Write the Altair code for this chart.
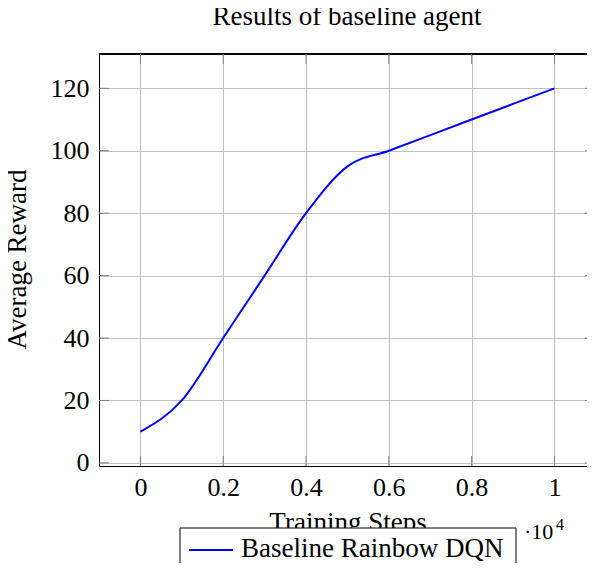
import altair as alt
import pandas as pd

# ---- data ----
steps = [0, 1000, 2000, 3000, 4000, 5000, 6000, 8000, 10000]
reward = [10, 20, 40, 60, 80, 95, 100, 110, 120]
series_name = "Baseline Rainbow DQN"
x_ticks = [0, 2000, 4000, 6000, 8000, 10000]
y_ticks = [0, 20, 40, 60, 80, 100, 120]

FONT = "Liberation Serif"
W, H = 488, 412          # visible plot area (the reference's right edge runs off the page)
W_FULL = 496             # where the right axis of the reference would sit
TICK = 10
TICK_COLOR = "#808080"
TXT = 27

df = pd.DataFrame({"step": steps, "reward": reward, "series": [series_name] * len(steps)})
xt = pd.DataFrame({"t": x_ticks})
yt = pd.DataFrame({"t": y_ticks})

xs = alt.Scale(domain=[-1000, 10787], nice=False, zero=False)
ys = alt.Scale(domain=[-1, 131], nice=False, zero=False)

line = alt.Chart(df).mark_line(interpolate="monotone", strokeWidth=2).encode(
    x=alt.X("step:Q", scale=xs,
            axis=alt.Axis(values=x_ticks, labelExpr="'' + datum.value / 10000",
                          title="Training Steps", labelPadding=8,
                          titleX=248.5, titleY=64, titleAlign="center",
                          titleBaseline="alphabetic")),
    y=alt.Y("reward:Q", scale=ys,
            axis=alt.Axis(values=y_ticks, title="Average Reward", labelPadding=10,
                          titleX=-74, titleY=205, titleAlign="center",
                          titleBaseline="alphabetic", titleAngle=-90)),
    color=alt.Color("series:N",
                    scale=alt.Scale(domain=[series_name], range=["#0000ff"]),
                    legend=None),
)

top_border = alt.Chart(xt).mark_rule(color="black", strokeWidth=1).encode(
    x=alt.value(0), x2=alt.value(W), y=alt.value(0))
xtick_top = alt.Chart(xt).mark_rule(color=TICK_COLOR, strokeWidth=1).encode(
    x=alt.X("t:Q", scale=xs), y=alt.value(0), y2=alt.value(TICK))
xtick_bot = alt.Chart(xt).mark_rule(color=TICK_COLOR, strokeWidth=1).encode(
    x=alt.X("t:Q", scale=xs), y=alt.value(H), y2=alt.value(H - TICK))
ytick_left = alt.Chart(yt).mark_rule(color=TICK_COLOR, strokeWidth=1).encode(
    y=alt.Y("t:Q", scale=ys), x=alt.value(0), x2=alt.value(TICK))
ytick_right = alt.Chart(yt).mark_rule(color=TICK_COLOR, strokeWidth=1).encode(
    y=alt.Y("t:Q", scale=ys), x=alt.value(W_FULL), x2=alt.value(W_FULL - TICK))

# legend box (boxed, below the axis title, as in the reference)
leg = pd.DataFrame({"series": [series_name]})
leg_box = alt.Chart(leg).mark_rect(fill="white", stroke="black", strokeWidth=1).encode(
    x=alt.value(81), x2=alt.value(417), y=alt.value(474), y2=alt.value(540))
leg_sym = alt.Chart(leg).mark_rule(strokeWidth=2).encode(
    x=alt.value(90), x2=alt.value(134), y=alt.value(496),
    color=alt.Color("series:N", scale=alt.Scale(domain=[series_name], range=["#0000ff"]),
                    legend=None))
leg_txt = alt.Chart(leg).mark_text(
    align="left", baseline="alphabetic", font=FONT, fontSize=TXT, color="black"
).encode(x=alt.value(142), y=alt.value(503), text="series:N")

mult = alt.Chart(pd.DataFrame({"t": ["·10"]})).mark_text(
    align="left", baseline="alphabetic", font=FONT, fontSize=22, color="black"
).encode(x=alt.value(425), y=alt.value(485), text="t:N")
mult_exp = alt.Chart(pd.DataFrame({"t": ["4"]})).mark_text(
    align="left", baseline="alphabetic", font=FONT, fontSize=16, color="black"
).encode(x=alt.value(457), y=alt.value(476), text="t:N")

chart = alt.layer(
    line, top_border, xtick_top, xtick_bot, ytick_left, ytick_right,
    leg_box, leg_sym, leg_txt, mult, mult_exp
).properties(
    width=W, height=H,
    autosize=alt.AutoSizeParams(type="none"),
    padding={"left": 91, "top": 46, "right": 0, "bottom": 97},
    title=alt.TitleParams("Results of baseline agent", font=FONT, fontSize=TXT,
                          fontWeight="normal", color="black", anchor="middle",
                          offset=23, dx=4),
).configure_view(
    stroke=None
).configure_axis(
    labelFont=FONT, labelFontSize=26, labelColor="black",
    titleFont=FONT, titleFontSize=TXT, titleFontWeight="normal", titleColor="black",
    ticks=False, tickSize=0,
    domainColor="black", domainWidth=1,
    grid=True, gridColor="#c0c0c0", gridWidth=1,
)

chart.save("out.html", embed_options={"renderer": "svg", "actions": False})
